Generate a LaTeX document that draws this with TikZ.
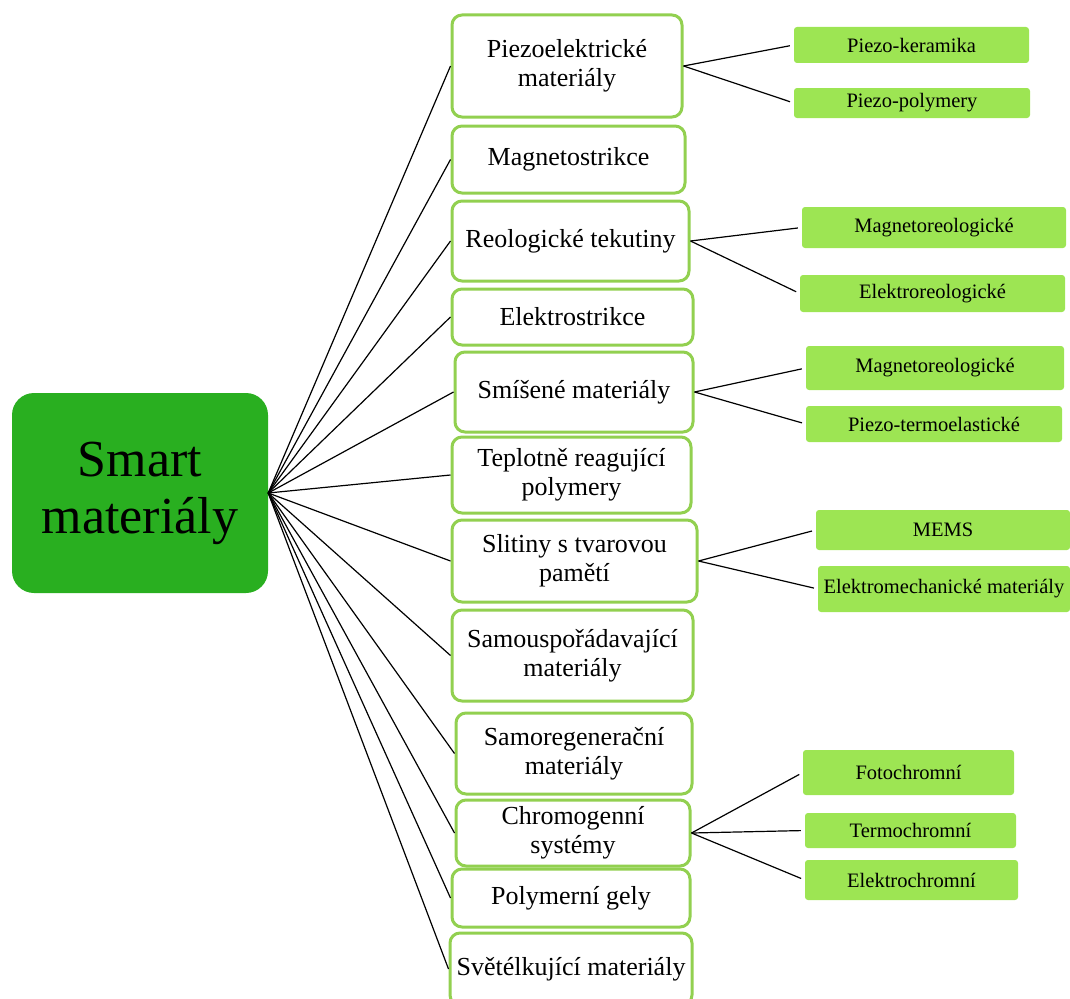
\documentclass[tikz,border=0pt]{standalone}
\usepackage{fontspec}
\setmainfont{Liberation Serif}
\definecolor{hubgreen}{HTML}{29AF20}
\definecolor{rimgreen}{HTML}{92D050}
\definecolor{leafgreen}{HTML}{9DE553}

\begin{document}
\begin{tikzpicture}[x=1pt, y=-1pt,
  hub/.style={fill=hubgreen, rounded corners=22, inner sep=0, align=center, font=\fontsize{52}{57}\selectfont},
  cat/.style={draw=rimgreen, line width=3, fill=white, rounded corners=10, inner sep=0, align=center, font=\fontsize{26}{29}\selectfont},
  leaf/.style={fill=leafgreen, rounded corners=3, inner sep=0, font=\fontsize{20.5}{24}\selectfont},
  link/.style={black, line width=1.2}]
\useasboundingbox (0,0) rectangle (1070,998);

\node[hub, minimum width=256, minimum height=200] (smart) at (140,493) {Smart\\materiály};

\node[cat, minimum width=230, minimum height=102] (piezo) at (567,66) {Piezoelektrické\\materiály};
\node[cat, minimum width=233, minimum height=67] (magnet) at (568.5,159.5) {Magnetostrikce};
\node[cat, minimum width=237, minimum height=80] (reolog) at (570.5,241) {Reologické tekutiny};
\node[cat, minimum width=241, minimum height=56] (elstr) at (572.5,317) {Elektrostrikce};
\node[cat, minimum width=238, minimum height=80] (smis) at (574,392) {Smíšené materiály};
\node[cat, minimum width=239, minimum height=76] (teplo) at (571.5,475) {Teplotně reagující\\polymery};
\node[cat, minimum width=245, minimum height=82] (slit) at (574.5,561) {Slitiny s tvarovou\\pamětí};
\node[cat, minimum width=241, minimum height=91] (samou) at (572.5,655.5) {Samouspořádavající\\materiály};
\node[cat, minimum width=236, minimum height=81] (samor) at (574,753.5) {Samoregenerační\\materiály};
\node[cat, minimum width=234, minimum height=66] (chrom) at (573,833) {Chromogenní\\systémy};
\node[cat, minimum width=238, minimum height=58] (gely) at (571,898) {Polymerní gely};
\node[cat, minimum width=242, minimum height=72] (svet) at (571,969) {Světélkující materiály};

\node[leaf, minimum width=235, minimum height=36] (pker) at (911.5,45) {Piezo-keramika};
\node[leaf, minimum width=236, minimum height=30] (ppol) at (912,103) {Piezo-polymery};
\node[leaf, minimum width=264, minimum height=41] (mreo) at (934,227.5) {Magnetoreologické};
\node[leaf, minimum width=265, minimum height=37] (ereo) at (932.5,293.5) {Elektroreologické};
\node[leaf, minimum width=258, minimum height=44] (mreob) at (935,368) {Magnetoreologické};
\node[leaf, minimum width=256, minimum height=36] (pterm) at (934,424) {Piezo-termoelastické};
\node[leaf, minimum width=254, minimum height=40] (mems) at (943,530) {MEMS};
\node[leaf, minimum width=252, minimum height=46] (emech) at (944,589) {Elektromechanické materiály};
\node[leaf, minimum width=211, minimum height=45] (foto) at (908.5,772.5) {Fotochromní};
\node[leaf, minimum width=211, minimum height=35] (termo) at (910.5,830.5) {Termochromní};
\node[leaf, minimum width=213, minimum height=40] (elch) at (911.5,880) {Elektrochromní};

\foreach \c in {piezo, magnet, reolog, elstr, smis, teplo, slit, samou, samor, chrom, gely, svet}
  \draw[link] (smart.east) -- (\c.west);

\foreach \a/\b in {piezo/pker, piezo/ppol, reolog/mreo, reolog/ereo, smis/mreob, smis/pterm,
  slit/mems, slit/emech, chrom/foto, chrom/termo, chrom/elch}
  \draw[link, shorten >=4] (\a.east) -- (\b.west);
\end{tikzpicture}
\end{document}
